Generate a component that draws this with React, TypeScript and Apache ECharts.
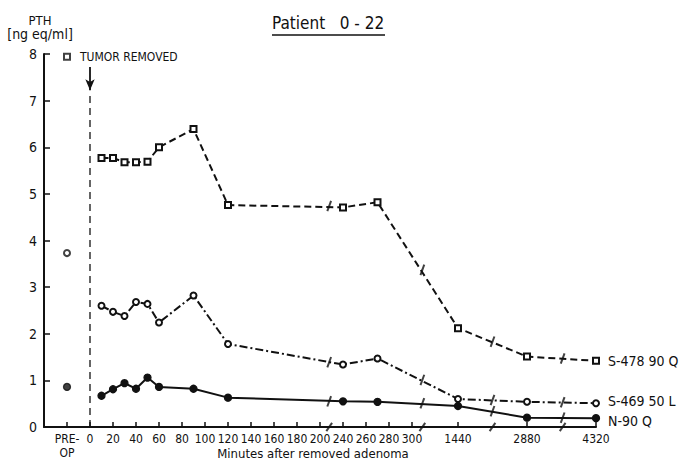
import React, { useEffect, useRef } from "react";
import * as echarts from "echarts";

// ---- data ----
const minutes = [10, 20, 30, 40, 50, 60, 90, 120, 240, 270, 1440, 2880, 4320];
const s478 = [5.77, 5.77, 5.68, 5.68, 5.69, 6.0, 6.39, 4.76, 4.71, 4.82, 2.12, 1.51, 1.42];
const s469 = [2.6, 2.47, 2.38, 2.68, 2.64, 2.24, 2.82, 1.78, 1.34, 1.47, 0.6, 0.54, 0.51];
const n90 = [0.67, 0.81, 0.94, 0.82, 1.06, 0.86, 0.82, 0.63, 0.55, 0.54, 0.45, 0.2, 0.19];
const preOpValues = [7.94, 3.73, 0.86]; // S-478, S-469, N-90
const seriesNames = ["S-478 90 Q", "S-469 50 L", "N-90 Q"];
// axis-break marks (axis units) and the values where they cut each line
const breakPositions = [10.4, 14.45, 17.5, 20.55];
const s478Breaks = [4.74, 3.37, 1.83, 1.47];
const s469Breaks = [1.39, 1.01, 0.58, 0.53];
const n90Breaks = [0.55, 0.51, 0.34, 0.2];
const tickMinutes = [0, 20, 40, 60, 80, 100, 120, 140, 160, 180, 200, 240, 260, 280, 300, 1440, 2880, 4320];
const preOpLabel = "PRE-\nOP";
const yTicks = [0, 1, 2, 3, 4, 5, 6, 7, 8];
const surgeryArrow = [7.72, 7.22]; // PTH-axis span of the arrow
const surgeryLineTop = 7.2;

// broken time axis: minutes -> axis units
const scaleStops: [number, number][] = [
  [0, 0],
  [200, 10],
  [240, 11],
  [300, 14],
  [1440, 16],
  [2880, 19],
  [4320, 22],
];
function pos(m: number): number {
  for (let i = 1; i < scaleStops.length; i++) {
    const [m0, p0] = scaleStops[i - 1];
    const [m1, p1] = scaleStops[i];
    if (m <= m1) return p0 + ((m - m0) / (m1 - m0)) * (p1 - p0);
  }
  return scaleStops[scaleStops.length - 1][1];
}
const PRE_POS = -1;

const FONT = "'Liberation Sans Narrow','DejaVu Sans Condensed','Roboto Condensed','Noto Sans',sans-serif";
const INK = "#111";

export default function App() {
  const ref = useRef<HTMLDivElement>(null);
  useEffect(() => {
    if (!ref.current) return;
    const chart = echarts.init(ref.current, undefined, { renderer: "svg" });
    const tickPositions = [PRE_POS, ...tickMinutes.map(pos)];
    const labelFor = (v: number) => {
      if (Math.abs(v - PRE_POS) < 1e-6) return preOpLabel;
      const i = tickMinutes.findIndex((m) => Math.abs(pos(m) - v) < 1e-6);
      return i >= 0 ? String(tickMinutes[i]) : "";
    };
    const lineData = (vals: number[]) => minutes.map((m, i) => [pos(m), vals[i]]);
    const breakData = (vals: number[]) => breakPositions.map((p, i) => [p, vals[i]]);
    const seriesDefs = [
      { name: seriesNames[0], vals: s478, brk: s478Breaks, symbol: "emptyRect", size: 6, lineType: [7, 4] as any, off: [0, 0] },
      { name: seriesNames[1], vals: s469, brk: s469Breaks, symbol: "emptyCircle", size: 6, lineType: [8, 3, 2, 3] as any, off: [0, -2] },
      { name: seriesNames[2], vals: n90, brk: n90Breaks, symbol: "circle", size: 7, lineType: "solid" as any, off: [0, 3] },
    ];
    const series: any[] = [];
    seriesDefs.forEach((d, k) => {
      series.push({
        name: d.name,
        type: "line",
        data: lineData(d.vals),
        symbol: d.symbol,
        symbolSize: d.size,
        showAllSymbol: true,
        itemStyle: { color: INK, borderColor: INK, borderWidth: 1.3 },
        lineStyle: { color: INK, width: 2, type: d.lineType },
        endLabel: {
          show: true,
          formatter: d.name,
          distance: 12,
          offset: d.off,
          fontFamily: FONT,
          fontSize: 14,
          color: INK,
        },
        z: 3,
      });
      series.push({
        name: d.name + " break",
        type: "scatter",
        data: breakData(d.brk),
        symbol: "rect",
        symbolSize: [2, 11],
        symbolRotate: -20,
        itemStyle: { color: INK },
        z: 4,
      });
      series.push({
        name: d.name + " pre-op",
        type: "scatter",
        data: [[PRE_POS, preOpValues[k]]],
        symbol: d.symbol,
        symbolSize: d.size,
        itemStyle: { color: INK, borderColor: INK, borderWidth: 1.3 },
        z: 4,
      });
    });
    // axis-break slashes on the time axis
    series.push({
      name: "axis breaks",
      type: "scatter",
      data: breakPositions.map((p) => [p, 0]),
      symbol: "rect",
      symbolSize: [2, 10],
      symbolRotate: -35,
      clip: false,
      itemStyle: { color: INK },
      z: 5,
    });
    // surgery marker: dashed vertical line at t = 0, with a down arrow above it
    series.push({
      name: "surgery line",
      type: "line",
      data: [
        [0, 0],
        [0, surgeryLineTop],
      ],
      symbol: "none",
      lineStyle: { color: INK, width: 1.3, type: [7, 5] },
      z: 2,
      markLine: {
        silent: true,
        symbol: ["none", "arrow"],
        symbolSize: [7, 11],
        label: { show: false },
        lineStyle: { color: INK, width: 1.8, type: "solid" },
        data: [[{ coord: [0, surgeryArrow[0]] }, { coord: [0, surgeryArrow[1]] }]],
      },
    });

    chart.setOption({
      animation: false,
      backgroundColor: "#fff",
      textStyle: { fontFamily: FONT, color: INK },
      grid: { left: 44, right: 90, top: 54, bottom: 33, containLabel: false, outerBoundsMode: "none" },
      xAxis: {
        type: "value",
        min: -2,
        max: 22,
        axisLine: { onZero: false, lineStyle: { color: INK, width: 2 } },
        axisTick: {
          show: true,
          inside: true,
          length: 5,
          customValues: tickPositions,
          lineStyle: { color: INK, width: 1.5 },
        },
        axisLabel: {
          customValues: tickPositions,
          formatter: (v: number) => labelFor(v),
          fontFamily: FONT,
          fontSize: 12,
          color: INK,
          margin: 5,
          lineHeight: 14,
        },
        splitLine: { show: false },
      },
      yAxis: {
        type: "value",
        min: 0,
        max: 8,
        interval: 1,
        axisLine: { show: true, onZero: false, lineStyle: { color: INK, width: 2 } },
        axisTick: { show: true, inside: true, length: 6, lineStyle: { color: INK, width: 1.5 } },
        axisLabel: {
          formatter: (v: number) => (yTicks.includes(v) ? String(v) : ""),
          fontFamily: FONT,
          fontSize: 14,
          color: INK,
          margin: 7,
        },
        splitLine: { show: false },
      },
      graphic: [
        {
          type: "text",
          left: 272,
          top: 14,
          style: { text: "Patient   0 - 22", font: `17px ${FONT}`, fill: INK },
        },
        {
          type: "line",
          shape: { x1: 272, y1: 35, x2: 385, y2: 35 },
          style: { stroke: INK, lineWidth: 1.5 },
        },
        {
          type: "text",
          x: 40,
          y: 20,
          style: { text: "PTH", font: `13px ${FONT}`, fill: INK, align: "center", verticalAlign: "middle" },
        },
        {
          type: "text",
          x: 40,
          y: 34,
          style: { text: "[ng eq/ml]", font: `14px ${FONT}`, fill: INK, align: "center", verticalAlign: "middle" },
        },
        {
          type: "text",
          x: 80,
          y: 57,
          style: { text: "TUMOR REMOVED", font: `12px ${FONT}`, fill: INK, verticalAlign: "middle" },
        },
        {
          type: "text",
          x: 313,
          y: 453,
          style: {
            text: "Minutes after removed adenoma",
            font: `13px ${FONT}`,
            fill: INK,
            align: "center",
            verticalAlign: "middle",
          },
        },
      ],
      series,
    });
    return () => chart.dispose();
  }, []);
  return <div ref={ref} style={{ position: "fixed", left: 0, top: 0, width: 686, height: 460 }} />;
}
